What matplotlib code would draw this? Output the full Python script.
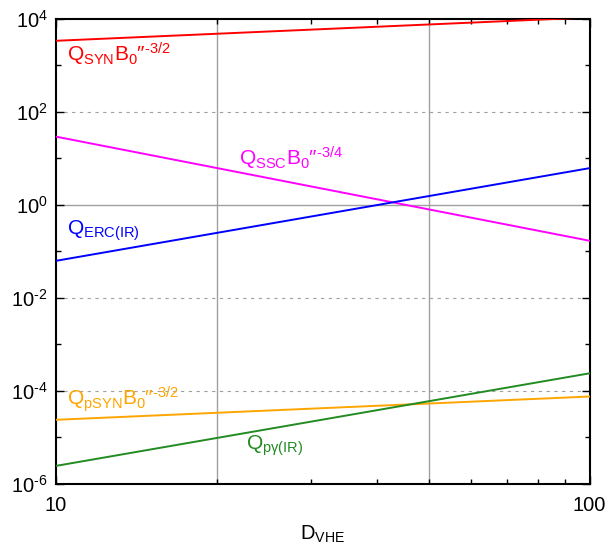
import numpy as np
import matplotlib
matplotlib.use("Agg")
import matplotlib.pyplot as plt
from matplotlib.ticker import FixedLocator, FuncFormatter, NullFormatter

plt.rcParams['font.family'] = ['Liberation Sans', 'DejaVu Sans']
plt.rcParams['mathtext.fontset'] = 'custom'
plt.rcParams['mathtext.rm'] = 'Liberation Sans'
plt.rcParams['mathtext.it'] = 'Liberation Sans'
plt.rcParams['mathtext.default'] = 'regular'

# Doppler factor range (end points of each power-law line)
d_vhe = [10, 100]

# values at D = 10 and D = 100
q_syn = [3.4e3, 1.08e4]
q_ssc = [29.5, 0.17]
q_erc = [0.063, 6.2]
q_psyn = [2.4e-5, 7.6e-5]
q_pg = [2.45e-6, 2.4e-4]

HY = '\u2010'  # plain hyphen, like the original exponents

series = [
    (q_syn, 'red', r'Q$_{SYN}$B$_0$″$^{%s3/2}$' % HY, (10.5, 1.2e3)),
    (q_ssc, 'magenta', r'Q$_{SSC}$B$_0$″$^{%s3/4}$' % HY, (22.0, 6.9)),
    (q_erc, 'blue', r'Q$_{ERC(IR)}$', (10.5, 0.226)),
    (q_psyn, 'orange', r'Q$_{pSYN}$B$_0$″$^{%s3/2}$' % HY, (10.5, 5.0e-5)),
    (q_pg, '#228b22', r'Q$_{p\gamma(IR)}$', (22.7, 5.4e-6)),
]

fig = plt.figure(figsize=(6.11, 5.46), dpi=100)
ax = fig.add_axes([0.0917, 0.1136, 0.8733, 0.8516])

# reference lines
for xv in [20, 50]:
    ax.axvline(xv, color='#a0a0a0', lw=1.0, zorder=1)
ax.axhline(1.0, color='#a0a0a0', lw=1.0, zorder=1)
for yv in [1e2, 1e-2, 1e-4]:
    ax.axhline(yv, color='#a0a0a0', lw=0.8, ls=(0, (3, 4)), zorder=1)

for vals, col, lab, pos in series:
    ax.plot(d_vhe, vals, color=col, lw=1.4, zorder=3)
    ax.text(pos[0], pos[1], lab, color=col, fontsize=15, va='baseline', ha='left')


def ylab(v, p):
    e = int(round(np.log10(v)))
    return r'10$^{%s}$' % (str(e).replace('-', HY))


ax.set_xscale('log')
ax.set_yscale('log')
ax.set_xlim(10, 100)
ax.set_ylim(1e-6, 1e4)

ax.xaxis.set_major_locator(FixedLocator([10, 100]))
ax.xaxis.set_minor_locator(FixedLocator([20, 30, 40, 50, 60, 70, 80, 90]))
ax.xaxis.set_major_formatter(FuncFormatter(lambda v, p: '%d' % v))
ax.xaxis.set_minor_formatter(NullFormatter())

ax.yaxis.set_major_locator(FixedLocator([1e-6, 1e-4, 1e-2, 1, 1e2, 1e4]))
ax.yaxis.set_minor_locator(FixedLocator([1e-5, 1e-3, 1e-1, 10, 1e3]))
ax.yaxis.set_major_formatter(FuncFormatter(ylab))
ax.yaxis.set_minor_formatter(NullFormatter())

ax.tick_params(which='both', direction='in', top=True, right=True, labelsize=14.5)
ax.tick_params(axis='x', pad=9)
ax.tick_params(axis='y', pad=6)
ax.tick_params(which='major', length=6, width=1)
ax.tick_params(which='minor', length=3.5, width=1)
for sp in ax.spines.values():
    sp.set_linewidth(1.5)

ax.set_xlabel(r'D$_{VHE}$', fontsize=14.5)
ax.xaxis.set_label_coords(0.5, -0.085)

fig.savefig('out.png', dpi=100)
